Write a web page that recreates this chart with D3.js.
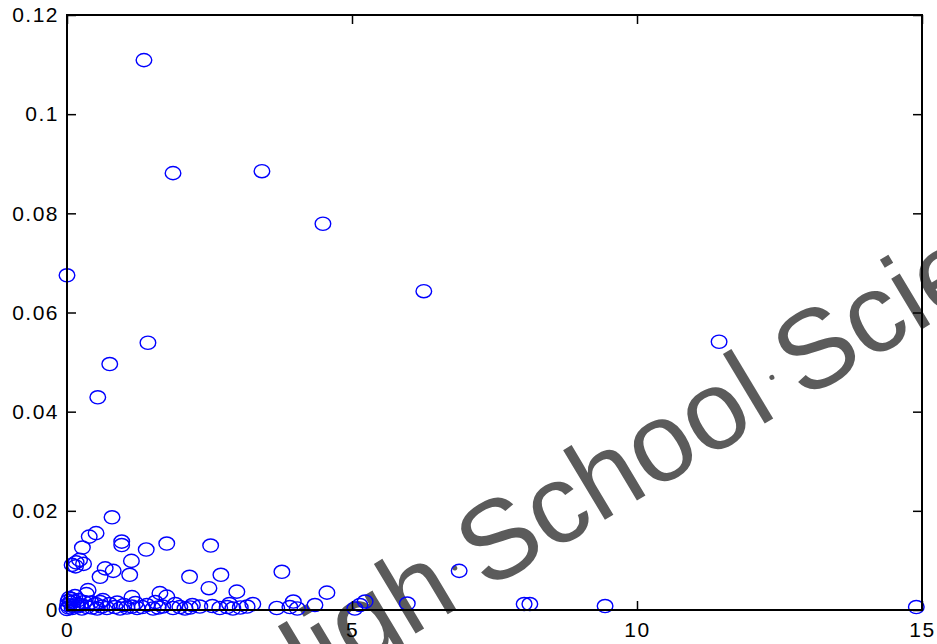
<!DOCTYPE html>
<html>
<head>
<meta charset="utf-8">
<script src="https://cdn.jsdelivr.net/npm/d3@7"></script>
<style>
  body { margin: 0; background: #fff; }
  .tick text { font-family: "Liberation Sans", Arial, sans-serif; font-size: 21px; letter-spacing: 1.5px; fill: #000; }
  .wm { font-family: "Liberation Sans", Arial, sans-serif; font-size: 112px; fill: #5b5b5b; }
</style>
</head>
<body>
<div id="chart"></div>
<script>
// page constants
const FRAME_WIDTH = 937;
const FRAME_HEIGHT = 644;
const MARGINS = {left: 67, right: 15, top: 15, bottom: 34};

// tick values and labels
const X_TICKS = [0, 5, 10, 15];
const X_LABELS = ["0", "5", "10", "15"];
const Y_TICKS = [0, 0.02, 0.04, 0.06, 0.08, 0.1, 0.12];
const Y_LABELS = ["0", "0.02", "0.04", "0.06", "0.08", "0.1", "0.12"];

// watermark words
const WM_WORDS = ["High", "School", "Science"];

// data
const X_VALS = [
  // big values
  1.35, 1.86, 3.42, 4.49, 0.0, 6.26, 1.42, 0.75, 0.54, 11.44,
  // middle values
  0.79, 0.39, 0.51, 0.27, 0.96, 0.96, 1.39, 1.75, 2.52,
  0.09, 0.16, 0.22, 0.29, 0.15, 1.13, 0.67, 0.81, 0.58, 1.10, 2.15, 2.70, 3.77, 6.88,
  2.49, 2.98, 4.56, 0.37, 0.34, 1.63, 1.75, 0.63, 1.14, 3.97, 4.35, 3.26,
  5.05, 5.14, 5.23, 5.97, 8.02, 8.12, 9.44, 14.9,
  // bottom row
  0.09, 0.18, 0.26, 0.35, 0.44, 0.53, 0.61, 0.70, 0.84, 0.93, 1.05, 1.14, 1.23, 1.32, 1.51,
  1.60, 1.68, 1.86, 1.98, 2.07, 2.16, 2.33, 2.68, 2.81, 2.91, 3.04, 3.16, 3.68, 3.91, 4.04,
  // cluster near origin
  0.0, 0.01, 0.02, 0.04, 0.03, 0.06, 0.08, 0.10, 0.12, 0.14, 0.17, 0.20, 0.24, 0.30, 0.42,
  0.50, 0.58, 0.75, 0.88, 1.00, 1.20, 1.40, 1.55, 1.90, 2.20, 2.55, 2.85
];
const Y_VALS = [
  0.1109, 0.0881, 0.0885, 0.0779, 0.0675, 0.0643, 0.0539, 0.0496, 0.0429, 0.0541,
  0.0187, 0.0148, 0.0155, 0.0126, 0.0138, 0.0131, 0.0122, 0.0134, 0.0130,
  0.0091, 0.0096, 0.0101, 0.0093, 0.0088, 0.0099, 0.0084, 0.0079, 0.0067, 0.0071, 0.0067, 0.0071, 0.0077, 0.0079,
  0.0044, 0.0037, 0.0035, 0.0040, 0.0032, 0.0034, 0.0027, 0.0020, 0.0026, 0.0017, 0.0010, 0.0012,
  0.0003, 0.0010, 0.0017, 0.0013, 0.0012, 0.0012, 0.0008, 0.0006,
  0.0004, 0.0007, 0.0003, 0.0006, 0.0005, 0.0003, 0.0007, 0.0004, 0.0006, 0.0003, 0.0005, 0.0007, 0.0004, 0.0006, 0.0003,
  0.0005, 0.0007, 0.0004, 0.0006, 0.0003, 0.0005, 0.0007, 0.0004, 0.0006, 0.0003, 0.0005, 0.0007, 0.0004, 0.0006, 0.0003,
  0.0002, 0.0010, 0.0018, 0.0024, 0.0005, 0.0015, 0.0022, 0.0008, 0.0017, 0.0028, 0.0012, 0.0020, 0.0010, 0.0016, 0.0015,
  0.0012, 0.0016, 0.0012, 0.0015, 0.0010, 0.0014, 0.0010, 0.0016, 0.0012, 0.0010, 0.0008, 0.0012
];

const POINTS = X_VALS.map((x, i) => ({x: x, y: Y_VALS[i]}));

const FRAME = d3.select("#chart")
.append("svg")
.attr("width", FRAME_WIDTH)
.attr("height", FRAME_HEIGHT)
.style("display", "block");

FRAME.append("rect")
.attr("width", FRAME_WIDTH)
.attr("height", FRAME_HEIGHT)
.attr("fill", "#fff");

// watermark sits under the plot, words laid along a tilted baseline
const WM = FRAME.append("g")
.attr("transform", "translate(265,724) rotate(-31)");

const WM_X = [0, 258, 628];
WM.selectAll(".wm")
.data(WM_WORDS)
.enter()
.append("text")
.attr("class", "wm")
.attr("x", (d, i) => WM_X[i])
.attr("y", 0)
.text((d) => d);

// little dots between the words
WM.selectAll(".wmdot")
.data([243, 613])
.enter()
.append("circle")
.attr("cx", (d) => d)
.attr("cy", -36)
.attr("r", 2.5)
.attr("fill", "#5b5b5b");

// scales
const X_SCALE = d3.scaleLinear()
.domain([0, 15])
.range([MARGINS.left, FRAME_WIDTH - MARGINS.right]);

const Y_SCALE = d3.scaleLinear()
.domain([0, 0.12])
.range([FRAME_HEIGHT - MARGINS.bottom, MARGINS.top]);

// open ellipse markers
FRAME.selectAll(".pt")
.data(POINTS)
.enter()
.append("ellipse")
.attr("class", "pt")
.attr("cx", (d) => { return X_SCALE(d.x); })
.attr("cy", (d) => { return Y_SCALE(d.y); })
.attr("rx", 7.8)
.attr("ry", 6.6)
.attr("fill", "none")
.attr("stroke", "#0000ff")
.attr("stroke-width", 1.4);

// axes, ticks pointing inward
const TICK = 9;
const x0 = X_SCALE.range()[0], x1 = X_SCALE.range()[1];
const y0 = Y_SCALE.range()[0], y1 = Y_SCALE.range()[1];

FRAME.append("g")
.attr("transform", "translate(0," + y0 + ")")
.call(d3.axisBottom(X_SCALE).tickValues(X_TICKS)
  .tickFormat((d, i) => X_LABELS[i])
  .tickSizeInner(-TICK).tickSizeOuter(0).tickPadding(12));

FRAME.append("g")
.attr("transform", "translate(0," + y1 + ")")
.call(d3.axisTop(X_SCALE).tickValues(X_TICKS)
  .tickFormat("").tickSizeInner(-TICK).tickSizeOuter(0));

FRAME.append("g")
.attr("transform", "translate(" + x0 + ",0)")
.call(d3.axisLeft(Y_SCALE).tickValues(Y_TICKS)
  .tickFormat((d, i) => Y_LABELS[i])
  .tickSizeInner(-TICK).tickSizeOuter(0).tickPadding(8));

FRAME.append("g")
.attr("transform", "translate(" + x1 + ",0)")
.call(d3.axisRight(Y_SCALE).tickValues(Y_TICKS)
  .tickFormat("").tickSizeInner(-TICK).tickSizeOuter(0));

FRAME.selectAll(".domain").remove();
FRAME.selectAll(".tick line").attr("stroke", "#000").attr("stroke-width", 1.5);

// box around plot area
FRAME.append("rect")
.attr("x", x0)
.attr("y", y1)
.attr("width", x1 - x0)
.attr("height", y0 - y1)
.attr("fill", "none")
.attr("stroke", "#000")
.attr("stroke-width", 2);
</script>
</body>
</html>
